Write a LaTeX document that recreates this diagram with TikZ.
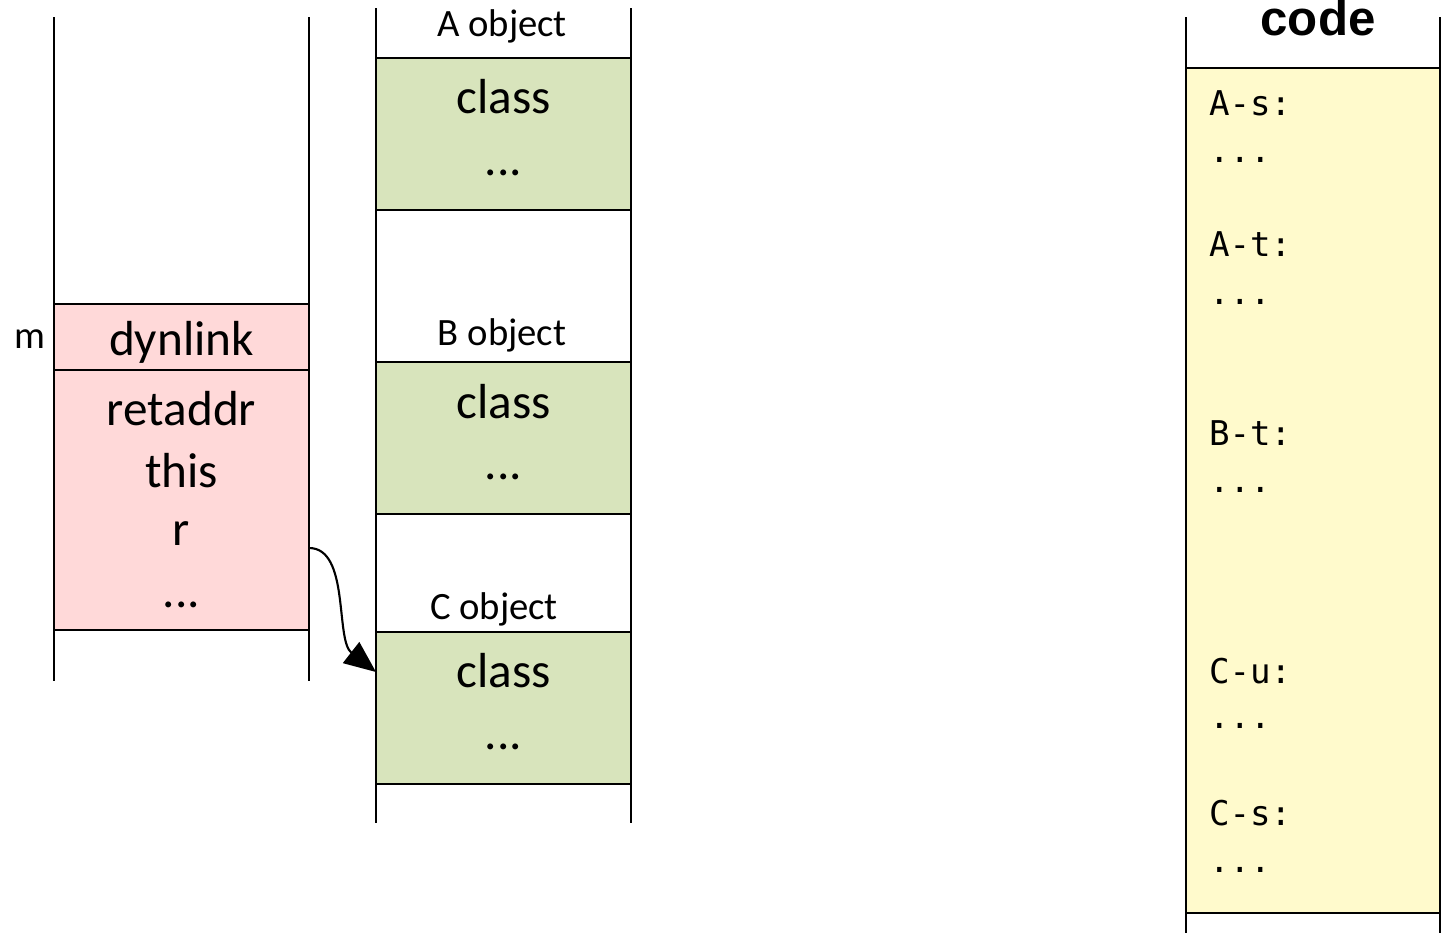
\documentclass[tikz,border=0pt]{standalone}
\usepackage{fontspec}
\usepackage{xcolor}
\usetikzlibrary{arrows.meta}
\setmainfont{Carlito}
\newfontfamily\codefont{DejaVu Sans Mono}
\newfontfamily\headfont{Liberation Sans}
\definecolor{framepink}{RGB}{255,217,217}
\definecolor{objgreen}{RGB}{216,228,188}
\definecolor{codeyellow}{RGB}{255,250,204}

\begin{document}
\begin{tikzpicture}[x=0.01cm,y=-0.01cm,line width=0.6pt,
    big/.style={anchor=base,inner sep=0pt,font=\fontsize{14}{16}\selectfont},
    lbl/.style={anchor=base,inner sep=0pt,font=\fontsize{11}{13}\selectfont},
    asm/.style={anchor=base west,inner sep=0pt,font=\codefont\fontsize{9.7}{11}\selectfont}]
  \useasboundingbox (0,0) rectangle (1441,933);
  % stack
  \draw[fill=framepink] (54,304) rectangle (309,630);
  \draw (54,370) -- (309,370);
  \draw (54,17) -- (54,681); \draw (309,17) -- (309,681);
  \node[lbl] (m) at (30,348) {m};
  \node[big] (dyn) at (181.5,355) {dynlink};
  \node[big] (ret) at (181.5,425) {retaddr};
  \node[big] (this) at (181.5,487) {this};
  \node[big] (r) at (181.5,545) {r};
  \node[big] (sdots) at (181.5,607) {...};
  % heap objects
  \draw[fill=objgreen] (376,58) rectangle (631,210);
  \draw[fill=objgreen] (376,362) rectangle (631,514);
  \draw[fill=objgreen] (376,632) rectangle (631,784);
  \draw (376,8) -- (376,823); \draw (631,8) -- (631,823);
  \node[lbl] (Aname) at (502,36) {A object};
  \node[big] (Acls) at (503.5,113) {class};
  \node[big] (Adots) at (503.5,175) {...};
  \node[lbl] (Bname) at (502,345) {B object};
  \node[big] (Bcls) at (503.5,418) {class};
  \node[big] (Bdots) at (503.5,479) {...};
  \node[lbl] (Cname) at (494,619) {C object};
  \node[big] (Ccls) at (503.5,687) {class};
  \node[big] (Cdots) at (503.5,749) {...};
  % code
  \draw[fill=codeyellow] (1186,68) rectangle (1440,913);
  \draw (1186,17) -- (1186,933); \draw (1440,17) -- (1440,933);
  \node[anchor=base,inner sep=0pt,font=\headfont\bfseries\fontsize{14}{16}\selectfont] (code) at (1318,35) {code};
  \node[asm] (As) at (1208,115) {A-s:};
  \node[asm] (Asd) at (1208,162) {...};
  \node[asm] (At) at (1208,256) {A-t:};
  \node[asm] (Atd) at (1208,304) {...};
  \node[asm] (Bt) at (1208,445) {B-t:};
  \node[asm] (Btd) at (1208,492) {...};
  \node[asm] (Cu) at (1208,683) {C-u:};
  \node[asm] (Cud) at (1208,728) {...};
  \node[asm] (Cs) at (1208,825) {C-s:};
  \node[asm] (Csd) at (1208,872) {...};
  % pointer r -> C object
  \coordinate (rref) at (309,548);
  \coordinate (cref) at (376,672);
  \draw[-{Triangle[length=9pt,width=7.5pt]}] (rref) .. controls (350,548) and (335,640) .. (cref);
\end{tikzpicture}
\end{document}
